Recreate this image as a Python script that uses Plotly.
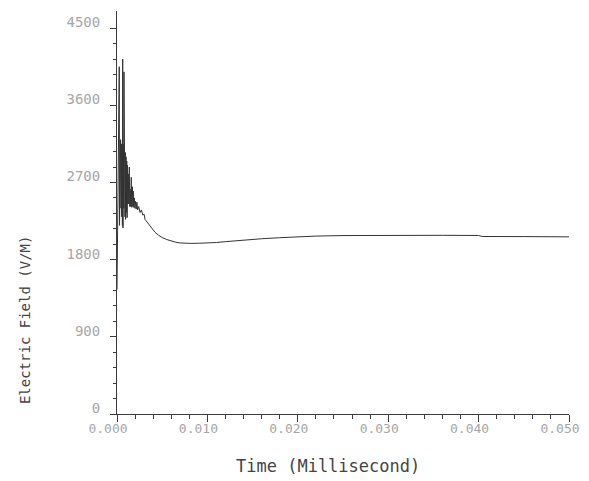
import plotly.graph_objects as go

time_ms = [
    0.00000, 0.00010, 0.00020, 0.00025, 0.00028, 0.00032, 0.00036, 0.00040, 0.00044, 0.00048,
    0.00052, 0.00056, 0.00060, 0.00063, 0.00066, 0.00070, 0.00074, 0.00077, 0.00080, 0.00084,
    0.00088, 0.00092, 0.00095, 0.00100, 0.00104, 0.00108, 0.00112, 0.00116, 0.00120, 0.00125,
    0.00130, 0.00136, 0.00141, 0.00147, 0.00152, 0.00158, 0.00163, 0.00170, 0.00175, 0.00180,
    0.00185, 0.00192, 0.00198, 0.00205, 0.00212, 0.00220, 0.00228, 0.00240, 0.00255, 0.00270,
    0.00285, 0.00300, 0.00310, 0.00330, 0.00350, 0.00380, 0.00400, 0.00420, 0.00460, 0.00500,
    0.00550, 0.00600, 0.00650, 0.00700, 0.00750, 0.00810, 0.00900, 0.01000, 0.01100, 0.01200,
    0.01400, 0.01600, 0.01800, 0.02000, 0.02200, 0.02500, 0.02800, 0.03200, 0.03600, 0.04000,
    0.04020, 0.04040, 0.04500, 0.05000,
]
field_vm = [
    1450, 2600, 3000, 4050, 2200, 3150, 2350, 3200, 2400, 3150,
    2300, 3100, 2200, 4140, 2170, 3150, 2400, 3990, 2350, 3100,
    2300, 3050, 2270, 3000, 2350, 2950, 2290, 2900, 2450, 2800,
    2450, 2880, 2420, 2620, 2420, 2760, 2410, 2650, 2420, 2600,
    2410, 2520, 2400, 2480, 2390, 2470, 2380, 2420, 2350, 2380,
    2320, 2330, 2270, 2240, 2210, 2170, 2145, 2120, 2085, 2058,
    2035, 2015, 2003, 1995, 1991, 1990, 1991, 1993, 2000, 2010,
    2029, 2044, 2056, 2067, 2075, 2081, 2083, 2084, 2084, 2082,
    2076, 2070, 2069, 2066,
]

x_ticks = [0.0, 0.01, 0.02, 0.03, 0.04, 0.05]
x_ticklabels = ["0.000", "0.010", "0.020", "0.030", "0.040", "0.050"]
y_ticks = [0, 900, 1800, 2700, 3600, 4500]
y_ticklabels = ["0", "900", "1800", "2700", "3600", "4500"]
x_minor = [0.002, 0.004, 0.006, 0.008, 0.012, 0.014, 0.016, 0.018, 0.022, 0.024, 0.026, 0.028,
           0.032, 0.034, 0.036, 0.038, 0.042, 0.044, 0.046, 0.048]
y_minor = [180, 360, 540, 720, 1080, 1260, 1440, 1620, 1980, 2160, 2340, 2520,
           2880, 3060, 3240, 3420, 3780, 3960, 4140, 4320]

FONT = "DejaVu Sans Mono"
TICK_COLOR = "#a6a6a6"
AXIS_COLOR = "#3a3a3a"

fig = go.Figure()
fig.add_trace(go.Scatter(
    x=time_ms, y=field_vm, mode="lines",
    line=dict(color="#333333", width=1),
    showlegend=False, hoverinfo="skip",
))

# page body has an 8px default margin, so the figure is sized to fit the window
fig.update_layout(
    width=581, height=473,
    margin=dict(l=109, r=20, t=3, b=67),
    paper_bgcolor="white", plot_bgcolor="white",
    xaxis=dict(
        range=[0, 0.05], showgrid=False, zeroline=False,
        showline=True, linecolor=AXIS_COLOR, linewidth=1,
        tickmode="array", tickvals=x_ticks, ticktext=x_ticklabels,
        ticks="outside", ticklen=7, tickwidth=1, tickcolor=AXIS_COLOR,
        tickfont=dict(family=FONT, size=13, color=TICK_COLOR),
        ticklabelshift=-9, ticklabelstandoff=-5,
        minor=dict(tickmode="array", tickvals=x_minor, ticks="outside",
                   ticklen=4, tickwidth=1, tickcolor=AXIS_COLOR, showgrid=False),
    ),
    yaxis=dict(
        range=[0, 4700], showgrid=False, zeroline=False,
        showline=True, linecolor=AXIS_COLOR, linewidth=1,
        tickmode="array", tickvals=y_ticks, ticktext=y_ticklabels,
        ticks="outside", ticklen=6, tickwidth=1, tickcolor=AXIS_COLOR,
        tickfont=dict(family=FONT, size=14, color=TICK_COLOR),
        ticklabelshift=-6, ticklabelstandoff=7,
        minor=dict(tickmode="array", tickvals=y_minor, ticks="outside",
                   ticklen=3, tickwidth=1, tickcolor=AXIS_COLOR, showgrid=False),
    ),
    annotations=[
        dict(text="Time (Millisecond)", xref="paper", yref="paper",
             x=0.467, y=-0.129, xanchor="center", yanchor="middle",
             showarrow=False, font=dict(family=FONT, size=17, color="#444444")),
        dict(text="Electric Field (V/M)", xref="paper", yref="paper",
             x=-0.2035, y=0.233, xanchor="center", yanchor="middle", textangle=-90,
             showarrow=False, font=dict(family=FONT, size=14, color="#444444")),
    ],
)

fig.write_html("out.html")
